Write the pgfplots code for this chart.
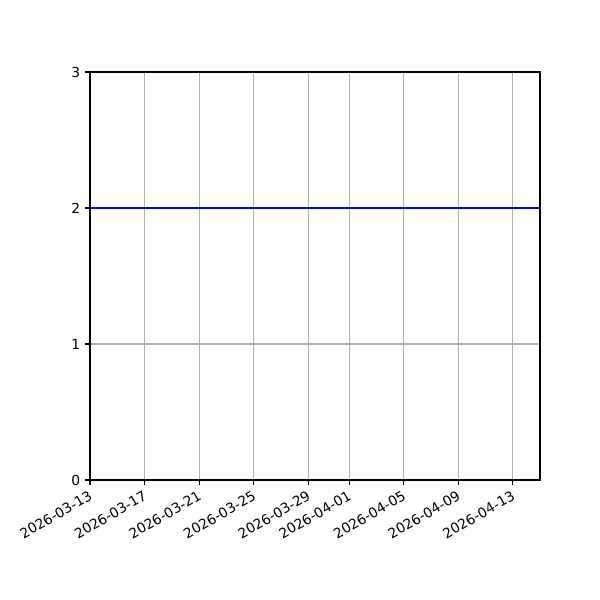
\documentclass[border=0pt]{standalone}
\usepackage{pgfplots}
\pgfplotsset{compat=1.18}
\usepackage{fontspec}
\setmainfont{DejaVu Sans}
\definecolor{gridgray}{HTML}{B0B0B0}
\begin{document}
\begin{tikzpicture}[x=1in,y=1in]
    \path[use as bounding box] (0,0) rectangle (6,6);
    \begin{axis}[
        at={(0.9in,1.2in)}, anchor=south west,
        scale only axis,
        width=4.5in, height=4.08in,
        xmin=0, xmax=33,
        ymin=0, ymax=3,
        xtick={0,4,8,12,16,19,23,27,31},
        xticklabels={2026-03-13,2026-03-17,2026-03-21,2026-03-25,2026-03-29,2026-04-01,2026-04-05,2026-04-09,2026-04-13},
        ytick={0,1,2,3},
        xticklabel style={rotate=30, anchor=north east, inner sep=1pt, xshift=-2pt, yshift=-1.5pt, font=\fontsize{10}{12}\selectfont},
        yticklabel style={font=\fontsize{10}{12}\selectfont},
        /pgf/number format/assume math mode=true,
        grid=major,
        major grid style={gridgray, line width=0.8pt},
        axis line style={black, line width=0.8pt},
        tick style={black, line width=0.8pt},
        tick align=outside,
        major tick length=3.5pt,
        xtick pos=bottom, ytick pos=left,
    ]
        \addplot[blue, line width=1.5pt] coordinates {
            (0,2) (1,2) (2,2) (3,2) (4,2) (5,2) (6,2) (7,2) (8,2) (9,2)
            (10,2) (11,2) (12,2) (13,2) (14,2) (15,2) (16,2) (17,2) (18,2)
            (19,2) (20,2) (21,2) (22,2) (23,2) (24,2) (25,2) (26,2) (27,2)
            (28,2) (29,2) (30,2) (31,2) (32,2) (33,2)
        };
    \end{axis}
\end{tikzpicture}
\end{document}
